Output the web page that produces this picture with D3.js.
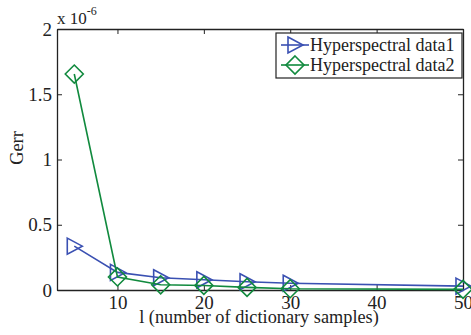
<!DOCTYPE html>
<html>
<head>
<meta charset="utf-8">
<script src="https://cdn.jsdelivr.net/npm/d3@7"></script>
<style>
  body { margin: 0; background: #fff; }
  text { font-family: "Liberation Serif", "DejaVu Serif", serif; fill: #222; }
</style>
</head>
<body>
<div id="chart"></div>
<script>
const xValues = [5, 10, 15, 20, 25, 30, 50];
const data1 = [0.336, 0.135, 0.094, 0.078, 0.063, 0.052, 0.03];   // x 1e-6
const data2 = [1.655, 0.10, 0.04, 0.035, 0.02, 0.01, 0.005];
const seriesNames = ["Hyperspectral data1", "Hyperspectral data2"];
const xTicks = [10, 20, 30, 40, 50];
const yTicks = [0, 0.5, 1, 1.5, 2];

const width = 471, height = 335;
const margin = { top: 29, right: 8, bottom: 45, left: 57 };
const innerWidth = width - margin.left - margin.right;
const innerHeight = height - margin.top - margin.bottom;

const svg = d3.select("#chart")
    .append("svg")
    .attr("width", width)
    .attr("height", height);

const inner = svg.append("g")
    .attr("transform", `translate(${margin.left}, ${margin.top})`);

const xScale = d3.scaleLinear().domain([3, 50]).range([0, innerWidth]);
const yScale = d3.scaleLinear().domain([0, 2]).range([innerHeight, 0]);

// axes (ticks pointing inward, MATLAB style)
const bottomAxis = d3.axisBottom(xScale).tickValues(xTicks).tickSizeInner(-5).tickSizeOuter(0).tickPadding(6);
const leftAxis = d3.axisLeft(yScale).tickValues(yTicks).tickSizeInner(-5).tickSizeOuter(0).tickPadding(5)
    .tickFormat(d => d === 0 ? "0" : String(d));

const gx = inner.append("g")
    .attr("transform", `translate(0, ${innerHeight})`)
    .call(bottomAxis);
const gy = inner.append("g").call(leftAxis);

inner.append("g")
    .call(d3.axisTop(xScale).tickValues(xTicks).tickSizeInner(-5).tickSizeOuter(0).tickFormat(""));
inner.append("g")
    .attr("transform", `translate(${innerWidth}, 0)`)
    .call(d3.axisRight(yScale).tickValues(yTicks).tickSizeInner(-5).tickSizeOuter(0).tickFormat(""));

inner.selectAll(".domain").attr("stroke", "#222").attr("stroke-width", 1.3);
inner.selectAll(".tick line").attr("stroke", "#222");
inner.selectAll(".tick text").attr("font-size", 19).attr("font-family", "Liberation Serif").attr("fill", "#222");

// exponent label
const expo = svg.append("text")
    .attr("x", margin.left)
    .attr("y", 24)
    .attr("font-size", 17);
expo.append("tspan").text("x 10");
expo.append("tspan").attr("dy", -9).attr("font-size", 12).text("-6");

// axis labels
svg.append("text")
    .attr("x", 259)
    .attr("y", 323)
    .attr("text-anchor", "middle")
    .attr("font-size", 18.3)
    .text("l (number of dictionary samples)");

svg.append("text")
    .attr("transform", `translate(23, 148) rotate(-90)`)
    .attr("text-anchor", "middle")
    .attr("font-size", 18.3)
    .text("Gerr");

const colors = ["#3a50b2", "#118a3e"];
const line = d3.line().x((d, i) => xScale(xValues[i])).y(d => yScale(d));

const triangle = "M-7,-8 L8,0 L-7,8 Z";
const diamond = "M0,-9 L9,0 L0,9 L-9,0 Z";
const markers = [triangle, diamond];

[data1, data2].forEach((series, s) => {
    inner.append("path")
        .datum(series)
        .attr("fill", "none")
        .attr("stroke", colors[s])
        .attr("stroke-width", 1.6)
        .attr("d", line);
    inner.selectAll(`.m${s}`)
        .data(series)
        .join("path")
        .attr("class", `m${s}`)
        .attr("transform", (d, i) => `translate(${xScale(xValues[i])}, ${yScale(d)})`)
        .attr("d", markers[s])
        .attr("fill", "none")
        .attr("stroke", colors[s])
        .attr("stroke-width", 1.6);
});

// legend
const legend = svg.append("g").attr("transform", "translate(276, 33)");
legend.append("rect")
    .attr("width", 186)
    .attr("height", 45)
    .attr("fill", "#fff")
    .attr("stroke", "#222")
    .attr("stroke-width", 1.2);
seriesNames.forEach((name, i) => {
    const g = legend.append("g").attr("transform", `translate(0, ${12 + i * 20})`);
    g.append("line")
        .attr("x1", 5).attr("x2", 33)
        .attr("stroke", colors[i]).attr("stroke-width", 1.6);
    g.append("path")
        .attr("transform", "translate(19, 0)")
        .attr("d", markers[i])
        .attr("fill", "none")
        .attr("stroke", colors[i])
        .attr("stroke-width", 1.6);
    g.append("text")
        .attr("x", 34)
        .attr("y", 6)
        .attr("font-size", 18)
        .text(name);
});
</script>
</body>
</html>
